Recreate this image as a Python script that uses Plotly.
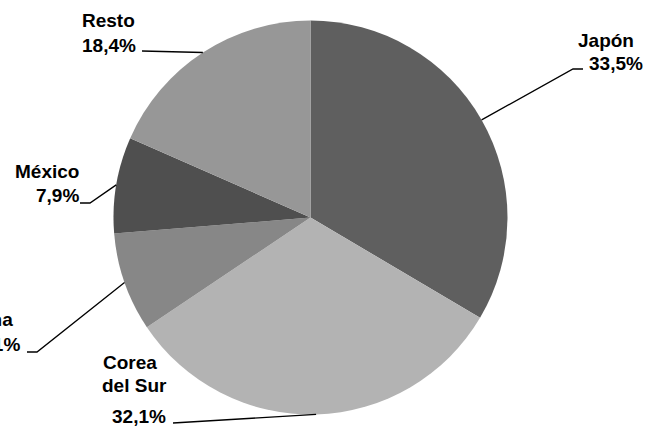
import math
import plotly.graph_objects as go

# ---- data ----
countries = ["Japón", "Corea del Sur", "China", "México", "Resto"]
shares = [33.5, 32.1, 8.1, 7.9, 18.4]
label_lines = [["Japón", "33,5%"], ["Corea", "del Sur", "32,1%"], ["China", "8,1%"],
               ["México", "7,9%"], ["Resto", "18,4%"]]
colors = ["#5f5f5f", "#b3b3b3", "#878787", "#4f4f4f", "#979797"]

# ---- layout constants (pixels) ----
W, H = 646, 427
CX, CY, R = 310.5, 217.5, 197.0
FONT = dict(family="Liberation Sans, Arial, sans-serif", size=19, color="#000000")

# text line placements: (x, y_center, anchor)
text_pos = [
    [(605.5, 40, "center"), (615.5, 64, "center")],
    [(103, 362, "left"), (102, 385.5, "left"), (112, 416, "left")],
    [(12.5, 319.5, "right"), (20, 344, "right")],
    [(79, 171.5, "right"), (79, 195, "right")],
    [(82, 20, "left"), (82, 45.5, "left")],
]
# leader path tail points after the slice anchor
leader_tail = [
    [(573, 69), (583, 69)],
    [(173, 423)],
    [(37, 352), (27, 352)],
    [(90, 203), (80, 203)],
    [(142, 51)],
]


def px(x):
    return x / W


def py(y):
    return 1 - y / H


fig = go.Figure(go.Pie(
    labels=countries, values=shares, sort=False, direction="clockwise", rotation=0,
    marker=dict(colors=colors, line=dict(width=0)), textinfo="none", hoverinfo="label+percent",
    domain=dict(x=[px(CX - R), px(CX + R)], y=[py(CY + R), py(CY - R)]),
    showlegend=False,
))

annotations = []
shapes = []
total = sum(shares)
cum = 0.0
for i, v in enumerate(shares):
    mid = (cum + v / 2) / total * 2 * math.pi
    cum += v
    ax = CX + R * math.sin(mid)
    ay = CY - R * math.cos(mid)
    pts = [(ax, ay)] + leader_tail[i]
    path = "M " + " L ".join(f"{px(x):.5f},{py(y):.5f}" for x, y in pts)
    shapes.append(dict(type="path", xref="paper", yref="paper", path=path,
                       line=dict(color="#000000", width=1.3)))
    for txt, (x, y, anc) in zip(label_lines[i], text_pos[i]):
        annotations.append(dict(text=f"<b>{txt}</b>", x=px(x), y=py(y), xref="paper", yref="paper",
                                xanchor=anc, yanchor="middle", showarrow=False, font=FONT,
                                borderpad=0, borderwidth=0))

fig.update_layout(
    width=W, height=H, margin=dict(l=0, r=0, t=0, b=0),
    paper_bgcolor="#ffffff", plot_bgcolor="#ffffff",
    annotations=annotations, shapes=shapes,
)
fig.write_html("out.html", config={"displayModeBar": False},
               post_script="document.body.style.margin='0';document.body.style.overflow='hidden';")
